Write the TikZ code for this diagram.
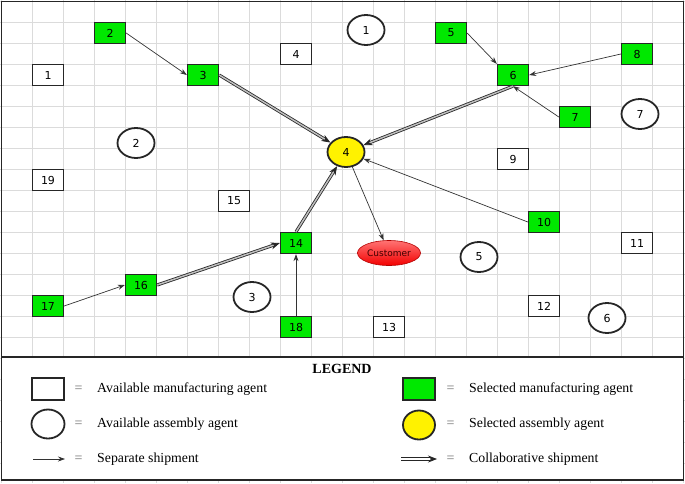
\documentclass[tikz,border=0pt]{standalone}
\usepackage{fontspec}
\setmainfont{Liberation Serif}
\newfontfamily\mapfont{DejaVu Sans}
\usetikzlibrary{shapes.geometric,arrows.meta}
\definecolor{selgreen}{RGB}{0,232,0}
\tikzset{
  gridline/.style={draw=black!14, line width=1.2pt},
  agent/.style={draw=black!85, line width=1.3pt, minimum width=31pt, minimum height=21pt, inner sep=0pt, font=\mapfont\fontsize{11}{11}\selectfont},
  mfree/.style={agent, fill=white},
  msel/.style={agent, fill=selgreen},
  asm/.style={agent, ellipse, line width=1.8pt, minimum width=37pt, minimum height=30pt, fill=white},
  asmsel/.style={asm, fill=yellow},
  sep/.style={draw=black!80, line width=0.7pt, -{Stealth[length=7pt, width=5pt]}},
  collab/.style={draw=black!85, line width=0.8pt, double=black!25, double distance=1.5pt, -{Stealth[length=9pt, width=7pt]}},
  eqsign/.style={text=black!55, font=\fontsize{14}{14}\selectfont},
  lbl/.style={anchor=west, inner sep=0pt, font=\fontsize{13.8}{14}\selectfont}
}
\begin{document}
\begin{tikzpicture}[x=1pt, y=-1pt]
\useasboundingbox (0,0) rectangle (685,483);
\foreach \i in {0,...,22} \draw[gridline] (1.5+31*\i,0) -- (1.5+31*\i,483);
\foreach \j in {0,...,23} \draw[gridline] (0,1.5+21*\j) -- (685,1.5+21*\j);
\draw[black!85, line width=1.5pt] (1.5,1.5) rectangle (683.5,480);

\node[mfree] (m1) at (48,75) {1};
\node[msel] (m2) at (110,33) {2};
\node[msel] (m3) at (203,75) {3};
\node[mfree] (m4) at (296,54) {4};
\node[msel] (m5) at (451,33) {5};
\node[msel] (m6) at (513,75) {6};
\node[msel] (m7) at (575,117) {7};
\node[msel] (m8) at (637,54) {8};
\node[mfree] (m9) at (513,159) {9};
\node[msel] (m10) at (544,222) {10};
\node[mfree] (m11) at (637,243) {11};
\node[mfree] (m12) at (544,306) {12};
\node[mfree] (m13) at (389,327) {13};
\node[msel] (m14) at (296,243) {14};
\node[mfree] (m15) at (234,201) {15};
\node[msel] (m16) at (141,285) {16};
\node[msel] (m17) at (48,306) {17};
\node[msel] (m18) at (296,327) {18};
\node[mfree] (m19) at (48,180) {19};

\node[asm] (a1) at (366,30) {1};
\node[asm] (a2) at (136,143) {2};
\node[asm] (a3) at (252,297) {3};
\node[asmsel] (a4) at (346,152) {4};
\node[asm] (a5) at (479,257) {5};
\node[asm] (a6) at (607,318) {6};
\node[asm] (a7) at (640,114) {7};

\node[ellipse, draw=red!70!black, line width=0.6pt, top color=red!55!white, bottom color=red!95!black, minimum width=63pt, minimum height=25pt, inner sep=0pt, text=red!25!black, font=\mapfont\fontsize{9}{9}\selectfont] (cust) at (389,253) {Customer};

\draw[sep] (m2.east) -- (m3.west);
\draw[sep] (m5.east) -- (m6.north west);
\draw[sep] (m8.west) -- (m6.east);
\draw[sep] (m7.west) -- (m6.south);
\draw[sep] (m10.west) -- (a4);
\draw[sep] (a4) -- (cust);
\draw[sep] (m17.east) -- (m16.west);
\draw[sep] (m18.north) -- (m14.south);
\draw[collab] (m3.east) -- (a4);
\draw[collab] (m6.south) -- (a4);
\draw[collab] (m16.east) -- (m14.west);
\draw[collab] (m14.north) -- (a4);

\draw[black!85, line width=1.5pt, fill=white] (1.5,357) rectangle (683.5,480);
\node[font=\bfseries\fontsize{14}{14}\selectfont] (lgd) at (342,369) {LEGEND};
\node[mfree, minimum width=32pt, minimum height=22pt] (kfree) at (48,389) {};
\node[eqsign] (q1) at (78.5,389) {=};
\node[lbl] (t1) at (97,389) {Available manufacturing agent};
\node[msel, minimum width=32pt, minimum height=22pt] (ksel) at (419,389) {};
\node[eqsign] (q2) at (450.5,389) {=};
\node[lbl] (t2) at (469,389) {Selected manufacturing agent};
\node[asm, minimum width=33pt, minimum height=29pt] (kasm) at (48,424) {};
\node[eqsign] (q3) at (78.5,424) {=};
\node[lbl] (t3) at (97,424) {Available assembly agent};
\node[asmsel, minimum width=32pt, minimum height=29pt] (kasmsel) at (419,425) {};
\node[eqsign] (q4) at (450.5,424) {=};
\node[lbl] (t4) at (469,424) {Selected assembly agent};
\coordinate (sa) at (33,459);
\coordinate (sb) at (65,459);
\draw[sep] (sa) -- (sb);
\node[eqsign] (q5) at (78.5,459) {=};
\node[lbl] (t5) at (97,459) {Separate shipment};
\coordinate (ca) at (401,459);
\coordinate (cb) at (437,459);
\draw[collab, double=white] (ca) -- (cb);
\node[eqsign] (q6) at (450.5,459) {=};
\node[lbl] (t6) at (469,459) {Collaborative shipment};
\end{tikzpicture}
\end{document}
